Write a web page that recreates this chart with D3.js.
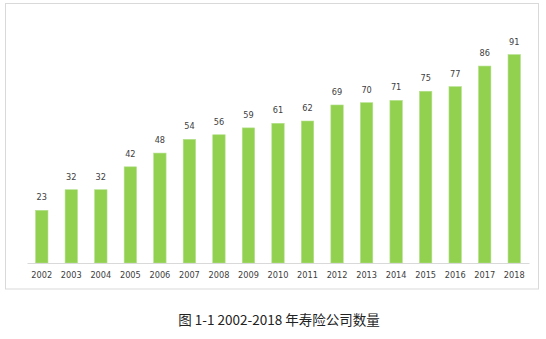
<!DOCTYPE html>
<html><head><meta charset="utf-8">
<script src="https://cdn.jsdelivr.net/npm/d3@7"></script>
<style>body{margin:0;background:#fff}svg{display:block}</style>
</head><body>
<svg id="c" width="546" height="339"></svg>
<script>
const years = ["2002","2003","2004","2005","2006","2007","2008","2009","2010","2011","2012","2013","2014","2015","2016","2017","2018"];
const counts = [23,32,32,42,48,54,56,59,61,62,69,70,71,75,77,86,91];
const caption = "图 1-1 2002-2018 年寿险公司数量";

const svg = d3.select("#c");
svg.append("rect").attr("x",5.5).attr("y",3.5).attr("width",533).attr("height",285.5)
  .attr("fill","#fff").attr("stroke","#d9d9d9").attr("stroke-width",1);

const x = d3.scaleBand().domain(years).range([27,529]).paddingInner(0.58).paddingOuter(0.29);
const y = d3.scaleLinear().domain([0,100]).range([263,34]);

svg.selectAll("rect.bar").data(counts).join("rect").attr("class","bar")
  .attr("x",(d,i)=>x(years[i])).attr("width",x.bandwidth())
  .attr("y",d=>y(d)).attr("height",d=>y(0)-y(d))
  .attr("fill","#92d050").attr("stroke","#b4e08c").attr("stroke-width",0.6);

svg.selectAll("text.val").data(counts).join("text").attr("class","val")
  .attr("x",(d,i)=>x(years[i])+x.bandwidth()/2).attr("y",d=>y(d)-10)
  .attr("text-anchor","middle").attr("font-family","DejaVu Sans, Verdana, sans-serif")
  .attr("font-size",8.2).attr("fill","#404040").text(d=>d);

const ax = svg.append("g").attr("transform","translate(0,263)")
  .call(d3.axisBottom(x).tickSize(0).tickPadding(9));
ax.select(".domain").attr("stroke","#d9d9d9").attr("stroke-width",1.2);
ax.selectAll("text").attr("font-family","DejaVu Sans, Verdana, sans-serif")
  .attr("font-size",8.2).attr("fill","#404040");

svg.append("text").attr("x",279).attr("y",325).attr("text-anchor","middle")
  .attr("font-family","Noto Sans CJK SC, Noto Sans, sans-serif").attr("font-size",13.5)
  .attr("fill","#222").text(caption);
</script>
</body></html>
